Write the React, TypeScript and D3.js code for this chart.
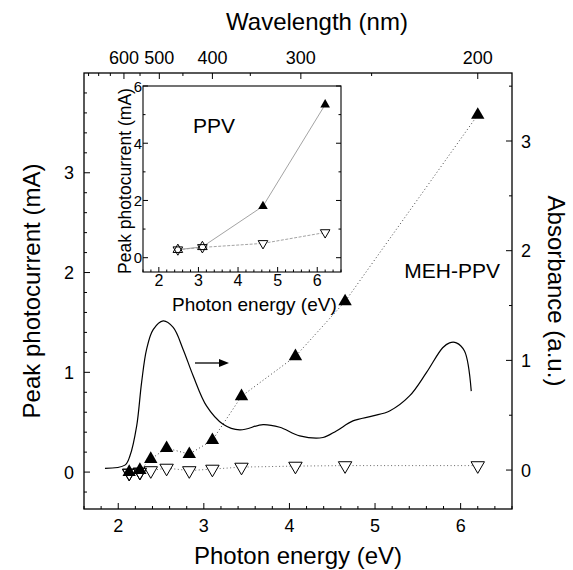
import { useEffect, useRef } from 'react';
import * as d3 from 'd3';

// main plot: photocurrent vs photon energy (MEH-PPV)
const energies = [2.128, 2.253, 2.38, 2.565, 2.83, 3.1, 3.44, 4.07, 4.65, 6.2];
const filledCurrent = [0.0, 0.02, 0.13, 0.24, 0.18, 0.32, 0.76, 1.16, 1.71, 3.58];
const openCurrent = [-0.01, 0.0, 0.015, 0.04, 0.015, 0.03, 0.05, 0.06, 0.065, 0.065];

// absorbance spectrum (right axis)
const absEnergy = [1.845, 2.078, 2.137, 2.215, 2.273, 2.331, 2.408, 2.525, 2.642, 2.758, 2.875, 3.031, 3.225, 3.42, 3.692, 3.887, 4.12, 4.392, 4.548, 4.742, 4.976, 5.17, 5.403, 5.6, 5.79, 5.87, 5.95, 6.045, 6.124];
const absValue = [0.015, 0.045, 0.13, 0.4, 0.8, 1.1, 1.28, 1.36, 1.3, 1.1, 0.86, 0.585, 0.418, 0.366, 0.415, 0.39, 0.312, 0.297, 0.357, 0.448, 0.494, 0.539, 0.676, 0.888, 1.115, 1.16, 1.16, 1.085, 0.72];

// inset: PPV
const insetEnergy = [2.48, 3.1, 4.63, 6.2];
const insetFilled = [0.28, 0.38, 1.8, 5.35];
const insetOpen = [0.28, 0.36, 0.5, 0.88];

const wavelengthTicks = [600, 500, 400, 300, 200];
const wavelengthMinor = [750, 700, 650, 550, 450, 350, 250];

const FONT = 'Liberation Sans, Arial, sans-serif';

export default function App() {
  const svgRef = useRef<SVGSVGElement | null>(null);

  useEffect(() => {
    if (!svgRef.current) return;
    const svg = d3.select(svgRef.current);
    svg.selectAll('*').remove();

    const m = { left: 84, right: 512, top: 73, bottom: 509 };
    const x = d3.scaleLinear().domain([1.6, 6.6]).range([m.left, m.right]);
    const yL = d3.scaleLinear().domain([-0.37, 4.0]).range([m.bottom, m.top]);
    const yR = d3.scaleLinear().domain([-0.355, 3.62]).range([m.bottom, m.top]);

    const g = svg.append('g').attr('font-family', FONT);

    // frame
    g.append('rect')
      .attr('x', m.left).attr('y', m.top)
      .attr('width', m.right - m.left).attr('height', m.bottom - m.top)
      .attr('fill', 'none').attr('stroke', '#000').attr('stroke-width', 1.3);

    // bottom ticks
    const xMinor = d3.range(1.6, 6.61, 0.2).map(v => +v.toFixed(1));
    xMinor.forEach(v => {
      const major = Math.abs(v - Math.round(v)) < 1e-6;
      g.append('line')
        .attr('x1', x(v)).attr('x2', x(v))
        .attr('y1', m.bottom).attr('y2', m.bottom - (major ? 6 : 3))
        .attr('stroke', '#000');
    });
    [2, 3, 4, 5, 6].forEach(v => {
      g.append('text').attr('x', x(v)).attr('y', 532)
        .attr('text-anchor', 'middle').attr('font-size', 18).text(v);
    });
    g.append('text').attr('x', (m.left + m.right) / 2).attr('y', 564)
      .attr('text-anchor', 'middle').attr('font-size', 24).text('Photon energy (eV)');

    // top axis: wavelength
    const eOf = (nm: number) => 1240 / nm;
    wavelengthMinor.forEach(nm => {
      g.append('line')
        .attr('x1', x(eOf(nm))).attr('x2', x(eOf(nm)))
        .attr('y1', m.top).attr('y2', m.top + 3).attr('stroke', '#000');
    });
    wavelengthTicks.forEach(nm => {
      g.append('line')
        .attr('x1', x(eOf(nm))).attr('x2', x(eOf(nm)))
        .attr('y1', m.top).attr('y2', m.top + 6).attr('stroke', '#000');
      g.append('text').attr('x', x(eOf(nm))).attr('y', 64)
        .attr('text-anchor', 'middle').attr('font-size', 18).text(nm);
    });
    g.append('text').attr('x', 317).attr('y', 30)
      .attr('text-anchor', 'middle').attr('font-size', 24).text('Wavelength (nm)');

    // left axis
    d3.range(-0.2, 3.81, 0.2).map(v => +v.toFixed(1)).forEach(v => {
      const major = Math.abs(v - Math.round(v)) < 1e-6;
      g.append('line')
        .attr('x1', m.left).attr('x2', m.left + (major ? 6 : 3))
        .attr('y1', yL(v)).attr('y2', yL(v)).attr('stroke', '#000');
    });
    [0, 1, 2, 3].forEach(v => {
      g.append('text').attr('x', 74).attr('y', yL(v) + 6.5)
        .attr('text-anchor', 'end').attr('font-size', 18).text(v);
    });
    g.append('text')
      .attr('transform', `translate(40,${(m.top + m.bottom) / 2}) rotate(-90)`)
      .attr('text-anchor', 'middle').attr('font-size', 24).text('Peak photocurrent (mA)');

    // right axis
    d3.range(0, 3.51, 0.5).forEach(v => {
      const major = Math.abs(v - Math.round(v)) < 1e-6;
      g.append('line')
        .attr('x1', m.right).attr('x2', m.right - (major ? 6 : 3))
        .attr('y1', yR(v)).attr('y2', yR(v)).attr('stroke', '#000');
    });
    [0, 1, 2, 3].forEach(v => {
      g.append('text').attr('x', 521).attr('y', yR(v) + 6.5)
        .attr('font-size', 18).text(v);
    });
    g.append('text')
      .attr('transform', `translate(548,${(m.top + m.bottom) / 2}) rotate(90)`)
      .attr('text-anchor', 'middle').attr('font-size', 24).text('Absorbance (a.u.)');

    // absorbance curve
    const absLine = d3.line<number>()
      .x((_, i) => x(absEnergy[i]))
      .y(d => yR(d))
      .curve(d3.curveCatmullRom);
    g.append('path').attr('d', absLine(absValue) || '')
      .attr('fill', 'none').attr('stroke', '#000').attr('stroke-width', 1.2);

    // photocurrent dotted lines
    const curLine = d3.line<number>().x((_, i) => x(energies[i])).y(d => yL(d));
    g.append('path').attr('d', curLine(filledCurrent) || '')
      .attr('fill', 'none').attr('stroke', '#444').attr('stroke-dasharray', '1,2.5');
    g.append('path').attr('d', curLine(openCurrent) || '')
      .attr('fill', 'none').attr('stroke', '#666').attr('stroke-dasharray', '1,2.5');

    const tri = d3.symbol(d3.symbolTriangle, 78)();
    openCurrent.forEach((v, i) => {
      g.append('path').attr('d', tri)
        .attr('transform', `translate(${x(energies[i])},${yL(v)}) rotate(180)`)
        .attr('fill', '#fff').attr('stroke', '#000').attr('stroke-width', 1);
    });
    filledCurrent.forEach((v, i) => {
      g.append('path').attr('d', tri)
        .attr('transform', `translate(${x(energies[i])},${yL(v)})`)
        .attr('fill', '#000');
    });
    // first two points overlap: redraw open outlines on top to form stars
    [0, 1].forEach(i => {
      g.append('path').attr('d', tri)
        .attr('transform', `translate(${x(energies[i])},${yL(openCurrent[i])}) rotate(180)`)
        .attr('fill', 'none').attr('stroke', '#000').attr('stroke-width', 1);
    });

    // arrow to absorbance axis
    g.append('line').attr('x1', 195).attr('x2', 222).attr('y1', 363).attr('y2', 363)
      .attr('stroke', '#000').attr('stroke-width', 1.3);
    g.append('path').attr('d', 'M219,359 L229,363 L219,367 Z').attr('fill', '#000');

    g.append('text').attr('x', 500).attr('y', 278)
      .attr('text-anchor', 'end').attr('font-size', 21).text('MEH-PPV');

    // ---------- inset ----------
    const ins = { left: 143, right: 341, top: 86, bottom: 272 };
    const ix = d3.scaleLinear().domain([1.6, 6.6]).range([ins.left, ins.right]);
    const iy = d3.scaleLinear().domain([-0.5, 6]).range([ins.bottom, ins.top]);
    const ig = g.append('g');
    ig.append('rect')
      .attr('x', ins.left).attr('y', ins.top)
      .attr('width', ins.right - ins.left).attr('height', ins.bottom - ins.top)
      .attr('fill', '#fff').attr('stroke', '#000').attr('stroke-width', 1.1);

    d3.range(1.6, 6.61, 0.2).map(v => +v.toFixed(1)).forEach(v => {
      const major = Math.abs(v - Math.round(v)) < 1e-6;
      ig.append('line').attr('x1', ix(v)).attr('x2', ix(v))
        .attr('y1', ins.bottom).attr('y2', ins.bottom - (major ? 5 : 2.5)).attr('stroke', '#000');
    });
    [2, 3, 4, 5, 6].forEach(v => {
      ig.append('text').attr('x', ix(v)).attr('y', 286)
        .attr('text-anchor', 'middle').attr('font-size', 16).text(v);
    });
    d3.range(0, 6.01, 1).forEach(v => {
      const major = v % 2 === 0;
      ig.append('line').attr('x1', ins.left).attr('x2', ins.left + (major ? 5 : 2.5))
        .attr('y1', iy(v)).attr('y2', iy(v)).attr('stroke', '#000');
      ig.append('line').attr('x1', ins.right).attr('x2', ins.right - (major ? 5 : 2.5))
        .attr('y1', iy(v)).attr('y2', iy(v)).attr('stroke', '#000');
    });
    [0, 2, 4, 6].forEach(v => {
      ig.append('text').attr('x', 142).attr('y', iy(v) + 5.5)
        .attr('text-anchor', 'end').attr('font-size', 15).text(v);
    });
    ig.append('text').attr('x', 172).attr('y', 311)
      .attr('font-size', 19).text('Photon energy (eV)');
    ig.append('text')
      .attr('transform', `translate(131,${(ins.top + ins.bottom) / 2 + 2}) rotate(-90)`)
      .attr('text-anchor', 'middle').attr('font-size', 17.5).text('Peak photocurrent (mA)');
    ig.append('text').attr('x', 193).attr('y', 133).attr('font-size', 21).text('PPV');

    const iLine = d3.line<number>().x((_, i) => ix(insetEnergy[i])).y(d => iy(d));
    ig.append('path').attr('d', iLine(insetFilled) || '')
      .attr('fill', 'none').attr('stroke', '#999').attr('stroke-width', 0.9);
    ig.append('path').attr('d', iLine(insetOpen) || '')
      .attr('fill', 'none').attr('stroke', '#999').attr('stroke-width', 0.9)
      .attr('stroke-dasharray', '3,1.5');
    const smallTri = d3.symbol(d3.symbolTriangle, 40)();
    insetFilled.forEach((v, i) => {
      ig.append('path').attr('d', smallTri)
        .attr('transform', `translate(${ix(insetEnergy[i])},${iy(v)})`)
        .attr('fill', i < 2 ? '#fff' : '#000').attr('stroke', '#000').attr('stroke-width', i < 2 ? 1 : 0);
    });
    insetOpen.forEach((v, i) => {
      ig.append('path').attr('d', smallTri)
        .attr('transform', `translate(${ix(insetEnergy[i])},${iy(v)}) rotate(180)`)
        .attr('fill', i < 2 ? 'none' : '#fff').attr('stroke', '#000').attr('stroke-width', 1);
    });
  }, []);

  return (
    <svg
      ref={svgRef}
      width={573}
      height={570}
      style={{ position: 'absolute', left: 0, top: 0, background: '#fff' }}
    />
  );
}
